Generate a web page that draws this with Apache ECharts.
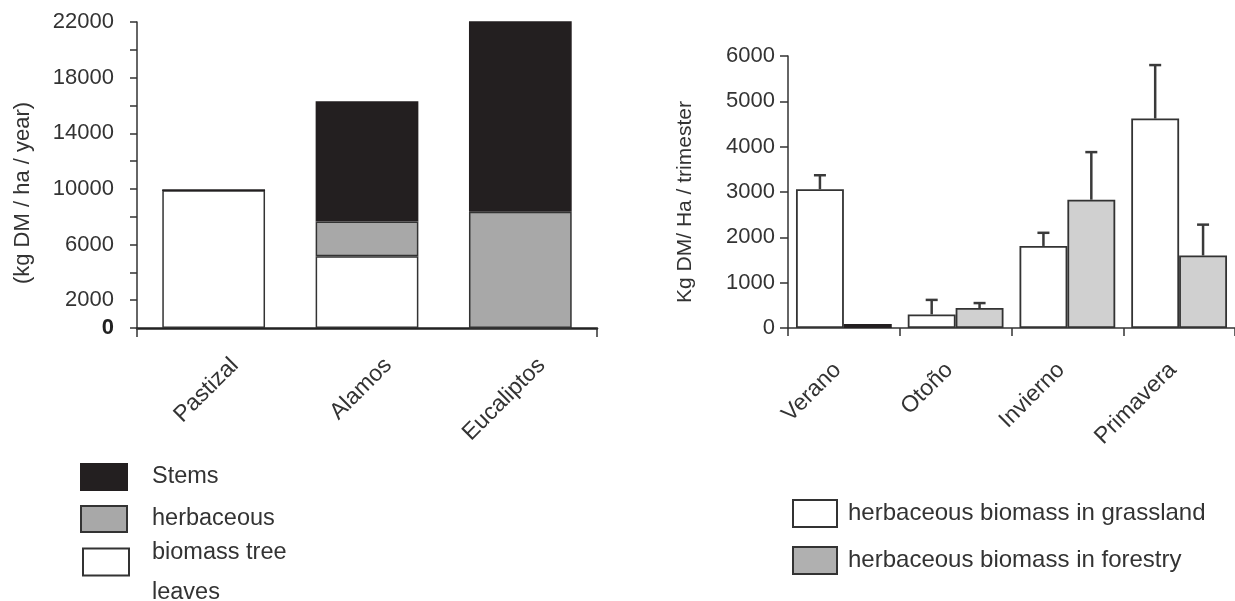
<!DOCTYPE html>
<html>
<head>
<meta charset="utf-8">
<script src="https://cdn.jsdelivr.net/npm/echarts@6/dist/echarts.min.js"></script>
<style>
  html, body { margin: 0; padding: 0; background: #fff; }
  #chart { width: 1235px; height: 601px; }
</style>
</head>
<body>
<div id="chart"></div>
<script>
// Annual biomass by land use (kg DM / ha / year), stacked
const standCategories = ['Pastizal', 'Alamos', 'Eucaliptos'];
const leavesValues = [9900, 5150, 0];
const herbaceousValues = [0, 2500, 8350];
const stemsValues = [0, 8650, 13750];

// Seasonal herbaceous biomass (Kg DM / Ha / trimester) with upper error
const seasonCategories = ['Verano', 'Otoño', 'Invierno', 'Primavera'];
const grasslandValues = [3060, 300, 1810, 4620];
const grasslandErr = [310, 320, 290, 1180];
const forestryValues = [90, 440, 2830, 1600];
const forestryErr = [0, 110, 1050, 680];

const FONT = "'Liberation Sans', Arial, sans-serif";
const TEXT = '#333';
const EDGE = '#333';
const SEASON_GAP = 0.143;

const chart = echarts.init(document.getElementById('chart'), null, { renderer: 'canvas' });

function errorBarItem(side) {
  return function (params, api) {
    const cat = api.value(0), base = api.value(1), err = api.value(2);
    if (!err) return null;
    const band = api.size([1, 0])[0];
    const barW = band * (1 - SEASON_GAP) / 2;
    const x = api.coord([cat, 0])[0] + (side - 0.5) * barW;
    const y0 = api.coord([cat, base])[1];
    const y1 = api.coord([cat, base + err])[1];
    const style = { stroke: '#3a3a3a', lineWidth: 2.5 };
    return {
      type: 'group',
      children: [
        { type: 'line', shape: { x1: x, y1: y0, x2: x, y2: y1 }, style },
        { type: 'line', shape: { x1: x - 6, y1: y1, x2: x + 6, y2: y1 }, style }
      ]
    };
  };
}

const option = {
  animation: false,
  backgroundColor: '#fff',
  textStyle: { fontFamily: FONT, color: TEXT },
  grid: [
    { left: 137, top: 22, width: 460, height: 306 },
    { left: 788, top: 56, width: 448, height: 272 }
  ],
  xAxis: [
    {
      type: 'category', gridIndex: 0, data: standCategories,
      axisLine: { lineStyle: { color: '#222', width: 2.5 } },
      axisTick: { show: true, length: 9, interval: (i) => i === 0, lineStyle: { color: EDGE, width: 1.5 } },
      axisLabel: {
        rotate: 45, margin: 55, fontSize: 23, fontFamily: FONT, color: TEXT,
        interval: 0, padding: [0, -30, 0, 0]
      }
    },
    {
      type: 'category', gridIndex: 1, data: seasonCategories,
      axisLine: { lineStyle: { color: EDGE, width: 1.5 } },
      axisTick: { show: true, length: 8, lineStyle: { color: EDGE, width: 1.5 } },
      axisLabel: {
        rotate: 45, margin: 32, fontSize: 23, fontFamily: FONT, color: TEXT,
        interval: 0, padding: [0, 9, 0, 0]
      }
    }
  ],
  yAxis: [
    {
      type: 'value', gridIndex: 0, min: 0, max: 22000, interval: 2000,
      name: '(kg DM / ha / year)', nameLocation: 'middle', nameRotate: 90, nameGap: 103,
      nameTextStyle: { fontSize: 22, fontFamily: FONT, color: TEXT, padding: [0, 36, 0, 0] },
      axisLine: { show: true, lineStyle: { color: EDGE, width: 1.5 } },
      axisTick: { show: true, length: 7, lineStyle: { color: EDGE, width: 1.5 } },
      splitLine: { show: false },
      axisLabel: {
        margin: 23, fontSize: 22, fontFamily: FONT, color: TEXT,
        formatter: (v) => v === 0 ? '{z|0}' : ((v / 2000) % 2 === 1 ? String(v) : ''),
        rich: { z: { fontWeight: 'bold', fontSize: 22, fontFamily: FONT, color: '#222' } }
      }
    },
    {
      type: 'value', gridIndex: 1, min: 0, max: 6000, interval: 1000,
      name: 'Kg DM/ Ha / trimester', nameLocation: 'middle', nameRotate: 90, nameGap: 92,
      nameTextStyle: { fontSize: 21, fontFamily: FONT, color: TEXT, padding: [0, 20, 0, 0] },
      axisLine: { show: true, lineStyle: { color: EDGE, width: 1.5 } },
      axisTick: { show: true, length: 8, lineStyle: { color: EDGE, width: 1.5 } },
      splitLine: { show: false },
      axisLabel: { margin: 13, fontSize: 22, fontFamily: FONT, color: TEXT, formatter: (v) => String(v) }
    }
  ],
  legend: [
    {
      left: 80, top: 463, padding: 0, orient: 'vertical', itemGap: 14,
      itemWidth: 46, itemHeight: 26, icon: 'rect', selectedMode: false,
      data: ['Stems', 'herbaceous'],
      textStyle: { fontSize: 23.5, fontFamily: FONT, color: TEXT, padding: [0, 0, 0, 20] }
    },
    {
      left: 82, top: 517, padding: 0, orient: 'vertical',
      itemWidth: 46, itemHeight: 27, icon: 'rect', selectedMode: false,
      data: ['biomass tree leaves'],
      formatter: () => '{s| }\n{t|biomass tree}\n{t|leaves}',
      textStyle: {
        fontSize: 23.5, fontFamily: FONT, color: TEXT, padding: [0, 0, 0, 18],
        rich: {
          s: { fontSize: 10, lineHeight: 21 },
          t: { fontSize: 23.5, fontFamily: FONT, color: TEXT, lineHeight: 40 }
        }
      }
    },
    {
      left: 792, top: 499, padding: 0, orient: 'vertical', itemGap: 18,
      itemWidth: 44, itemHeight: 27, icon: 'rect', selectedMode: false,
      data: [
        { name: 'herbaceous biomass in grassland' },
        { name: 'herbaceous biomass in forestry', itemStyle: { color: '#b0b0b0' } }
      ],
      textStyle: { fontSize: 24, fontFamily: FONT, color: TEXT, padding: [0, 0, 0, 6] }
    }
  ],
  series: [
    {
      name: 'biomass tree leaves', type: 'bar', stack: 'total', xAxisIndex: 0, yAxisIndex: 0,
      barCategoryGap: '33%', data: leavesValues,
      itemStyle: { color: '#ffffff', borderColor: EDGE, borderWidth: 1.5 }
    },
    {
      name: 'herbaceous', type: 'bar', stack: 'total', xAxisIndex: 0, yAxisIndex: 0,
      barCategoryGap: '33%', data: herbaceousValues,
      itemStyle: { color: '#a8a8a8', borderColor: EDGE, borderWidth: 1.5 }
    },
    {
      name: 'Stems', type: 'bar', stack: 'total', xAxisIndex: 0, yAxisIndex: 0,
      barCategoryGap: '33%', data: stemsValues,
      itemStyle: { color: '#231f20', borderColor: '#231f20', borderWidth: 1.5 }
    },
    {
      name: 'herbaceous biomass in grassland', type: 'bar', xAxisIndex: 1, yAxisIndex: 1,
      barGap: '0%', barCategoryGap: (SEASON_GAP * 100) + '%', data: grasslandValues,
      itemStyle: { color: '#ffffff', borderColor: EDGE, borderWidth: 1.8 }
    },
    {
      name: 'herbaceous biomass in forestry', type: 'bar', xAxisIndex: 1, yAxisIndex: 1,
      barGap: '0%', barCategoryGap: (SEASON_GAP * 100) + '%',
      data: forestryValues.map((v, i) => i === 0
        ? { value: v, itemStyle: { color: '#231f20', borderColor: '#231f20' } }
        : v),
      itemStyle: { color: '#d0d0d0', borderColor: EDGE, borderWidth: 1.8 }
    },
    {
      type: 'custom', xAxisIndex: 1, yAxisIndex: 1, z: 5, silent: true,
      renderItem: errorBarItem(0),
      data: grasslandValues.map((v, i) => [i, v, grasslandErr[i]])
    },
    {
      type: 'custom', xAxisIndex: 1, yAxisIndex: 1, z: 5, silent: true,
      renderItem: errorBarItem(1),
      data: forestryValues.map((v, i) => [i, v, forestryErr[i]])
    }
  ]
};

chart.setOption(option);
</script>
</body>
</html>
